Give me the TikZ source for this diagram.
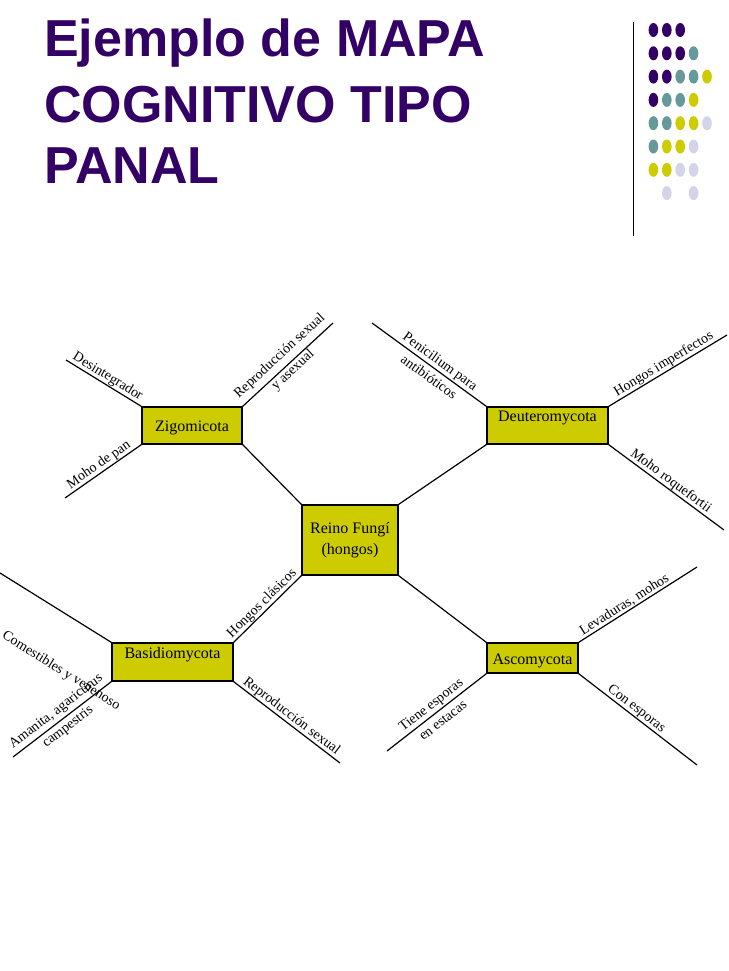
\documentclass[tikz,border=0pt]{standalone}
\usepackage{fontspec}
\setmainfont{Liberation Serif}
\newfontfamily\titlefont{Liberation Sans}
\definecolor{ttl}{HTML}{330066}
\definecolor{dP}{HTML}{330066}
\definecolor{dT}{HTML}{669999}
\definecolor{dY}{HTML}{CCCC00}
\definecolor{dL}{HTML}{D4D4E8}
\definecolor{boxfill}{HTML}{CCCC00}
\begin{document}
\begin{tikzpicture}[x=1pt,y=-1pt,
  titletext/.style={anchor=base west, inner sep=0pt, text=ttl, font=\titlefont\bfseries\fontsize{52}{60}\selectfont},
  box/.style={draw=black, line width=1.2pt, fill=boxfill, inner sep=0pt, font=\fontsize{16}{21}\selectfont},
  link/.style={line width=1.2pt},
  lbl/.style={font=\fontsize{14}{19.5}\selectfont, sloped, inner sep=0.6pt},
]
\useasboundingbox[fill=white] (0,0) rectangle (728,971);

% title
\node[titletext] (t1) at (44,57) {Ejemplo de MAPA};
\node[titletext] (t2) at (44,123) {COGNITIVO TIPO};
\node[titletext] (t3) at (44,183) {PANAL};

% decoration
\draw[line width=1pt] (633,22) -- (633,236);
\foreach \c/\r/\col in {1/1/dP,2/1/dP,3/1/dP,
  1/2/dP,2/2/dP,3/2/dP,4/2/dT,
  1/3/dP,2/3/dP,3/3/dT,4/3/dT,5/3/dY,
  1/4/dP,2/4/dT,3/4/dT,4/4/dY,
  1/5/dT,2/5/dT,3/5/dY,4/5/dY,5/5/dL,
  1/6/dT,2/6/dY,3/6/dY,4/6/dL,
  1/7/dY,2/7/dY,3/7/dL,4/7/dL,
  2/8/dL,4/8/dL}
  \fill[\col] ({640+13.4*\c},{6.7+23.3*\r}) ellipse[x radius=4.8pt, y radius=7pt];

% boxes
\node[box, minimum width=100pt, minimum height=37pt, text height=24.7pt, text depth=12.3pt] (zig) at (192,425.5) {Zigomicota};
\node[box, minimum width=121pt, minimum height=37pt, text height=14.7pt, text depth=22.3pt] (deut) at (547.5,425.5) {Deuteromycota};
\node[box, minimum width=96pt, minimum height=70pt, align=center] (reino) at (350,540) {Reino Fungí\\(hongos)};
\node[box, minimum width=121pt, minimum height=38pt, text height=15pt, text depth=23pt] (basid) at (172.5,662) {Basidiomycota};
\node[box, minimum width=91pt, minimum height=30pt, text height=21pt, text depth=9pt] (asco) at (532.5,658) {Ascomycota};

% free ends
\coordinate (zA) at (66,360);
\coordinate (zB) at (65,498);
\coordinate (zC) at (333,323);
\coordinate (dA) at (372,323);
\coordinate (dB) at (727,335);
\coordinate (dC) at (724,530);
\coordinate (bA) at (0,573);
\coordinate (bB) at (13,757);
\coordinate (bC) at (340,763);
\coordinate (aA) at (697,567);
\coordinate (aB) at (697,765);
\coordinate (aC) at (387,751);

% central links
\draw[link] (zig.south east) -- (reino.north west);
\draw[link] (deut.south west) -- (reino.north east);
\draw[link] (reino.south west) -- node[lbl, above]{Hongos clásicos} (basid.north east);
\draw[link] (reino.south east) -- (asco.north west);

% Zigomicota
\draw[link] (zA) -- node[lbl, above]{Desintegrador} (zig.north west);
\draw[link] (zB) -- node[lbl, above]{Moho de pan} (zig.south west);
\draw[link] (zig.north east) -- node[lbl, align=center, yshift=2pt]{Reproducción sexual\\y asexual} (zC);

% Deuteromycota
\draw[link] (dA) -- node[lbl, align=center, pos=0.55]{Penicilium para\\antibióticos} (deut.north west);
\draw[link] (deut.north east) -- node[lbl, above]{Hongos imperfectos} (dB);
\draw[link] (deut.south east) -- node[lbl, above]{Moho roquefortii} (dC);

% Basidiomycota
\draw[link] (bA) -- (basid.north west);
\node[font=\fontsize{14}{18}\selectfont, rotate=-32, inner sep=0pt] (comest) at (61,671) {Comestibles y venenoso};
\draw[link] (bB) -- node[lbl, align=center]{Amanita, agaricurus\\campestris} (basid.south west);
\draw[link] (basid.south east) -- node[lbl, above]{Reproducción sexual} (bC);

% Ascomycota
\draw[link] (asco.north east) -- node[lbl, above, pos=0.42]{Levaduras, mohos} (aA);
\draw[link] (asco.south east) -- node[lbl, above, pos=0.45]{Con esporas} (aB);
\draw[link] (aC) -- node[lbl, align=center]{Tiene esporas\\en estacas} (asco.south west);
\end{tikzpicture}
\end{document}
